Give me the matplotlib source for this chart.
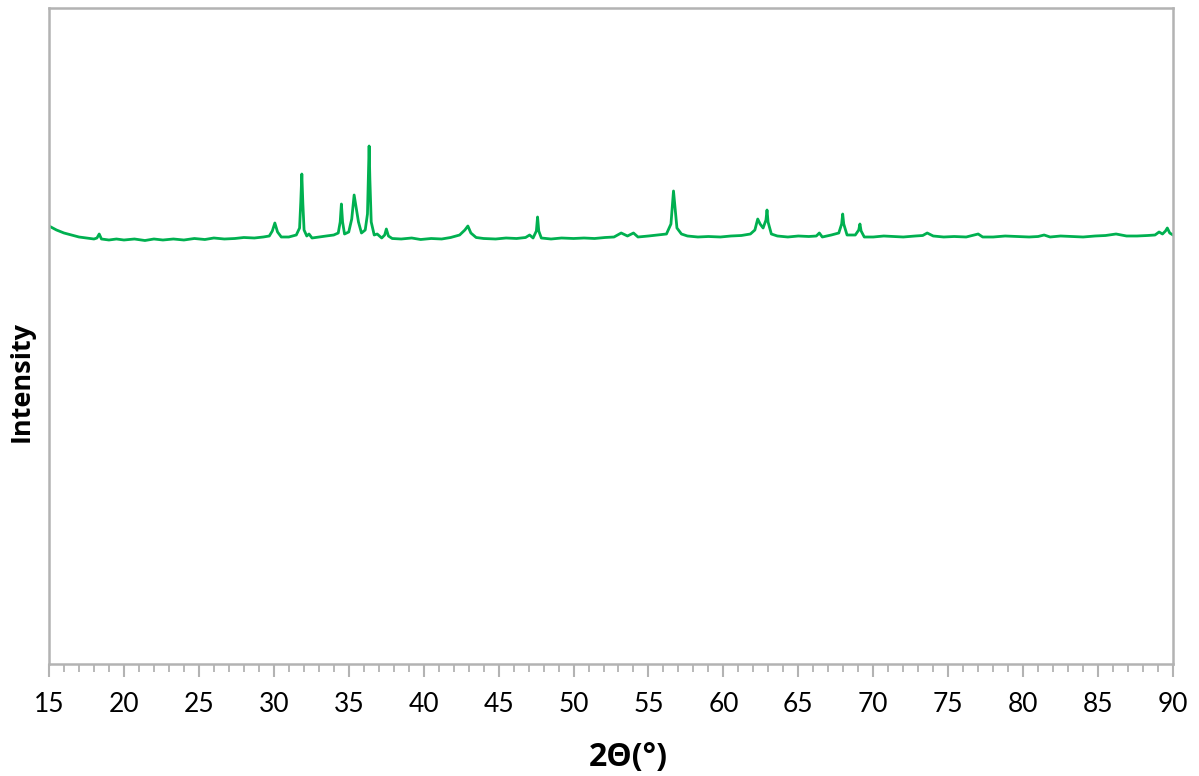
import numpy as np
import matplotlib.pyplot as plt
from matplotlib.ticker import MultipleLocator

# Patrón de difracción (2θ en grados, intensidad en u.a.)
two_theta = [
    15.0, 15.5, 16.0, 16.5, 17.0, 17.5, 18.0, 18.2, 18.35, 18.5,
    19.0, 19.5, 20.0, 20.7, 21.4, 22.0, 22.6, 23.3, 24.0, 24.7,
    25.4, 26.0, 26.7, 27.4, 28.0, 28.7, 29.3, 29.7, 29.9, 30.07,
    30.25, 30.5, 31.0, 31.5, 31.72, 31.8, 31.87, 31.94, 32.02, 32.2,
    32.35, 32.55, 33.0, 33.5, 34.0, 34.3, 34.43, 34.51, 34.59, 34.72,
    35.0, 35.2, 35.36, 35.5, 35.65, 35.85, 36.1, 36.25, 36.31, 36.36,
    36.41, 36.5, 36.7, 36.9, 37.2, 37.4, 37.51, 37.65, 37.9, 38.5,
    39.2, 39.8, 40.5, 41.2, 41.8, 42.4, 42.75, 42.95, 43.15, 43.5,
    44.0, 44.8, 45.5, 46.2, 46.8, 47.07, 47.3, 47.52, 47.6, 47.68,
    47.85, 48.5, 49.2, 50.0, 50.7, 51.4, 52.1, 52.7, 53.18, 53.6,
    54.0, 54.3, 55.0, 55.6, 56.2, 56.5, 56.6, 56.67, 56.75, 56.9,
    57.2, 57.6, 58.3, 59.0, 59.8, 60.5, 61.2, 61.8, 62.1, 62.29,
    62.45, 62.65, 62.84, 62.91, 62.98, 63.2, 63.6, 64.3, 65.0, 65.7,
    66.2, 66.4, 66.6, 67.2, 67.7, 67.89, 67.96, 68.03, 68.25, 68.8,
    69.03, 69.11, 69.19, 69.4, 70.0, 70.7, 71.4, 72.0, 72.8, 73.3,
    73.6, 74.0, 74.7, 75.4, 76.2, 77.0, 77.3, 78.0, 78.8, 79.6,
    80.4, 81.0, 81.4, 81.8, 82.5, 83.2, 84.0, 84.8, 85.5, 86.2,
    86.9, 87.6, 88.3, 88.8, 89.07, 89.3, 89.5, 89.62, 89.78, 90.0,
]
intensity = [
    4380, 4340, 4310, 4290, 4270, 4260, 4250, 4260, 4300, 4250,
    4240, 4250, 4240, 4250, 4235, 4250, 4240, 4250, 4240, 4255,
    4245, 4260, 4250, 4255, 4265, 4260, 4270, 4280, 4330, 4410,
    4320, 4270, 4270, 4290, 4360, 4620, 4900, 4600, 4340, 4280,
    4300, 4260, 4270, 4280, 4290, 4310, 4420, 4600, 4420, 4300,
    4320, 4450, 4690, 4560, 4420, 4310, 4340, 4500, 4850, 5180,
    4850, 4420, 4290, 4300, 4260, 4290, 4350, 4280, 4255, 4250,
    4260, 4245, 4255, 4250, 4265, 4290, 4340, 4380, 4310, 4265,
    4255, 4250, 4260, 4255, 4265, 4290, 4260, 4330, 4470, 4330,
    4260, 4250, 4260, 4255, 4260, 4255, 4265, 4270, 4310, 4280,
    4310, 4270, 4280, 4290, 4300, 4400, 4600, 4730, 4600, 4360,
    4300, 4280, 4270, 4275, 4270, 4280, 4285, 4300, 4340, 4450,
    4400, 4360, 4440, 4540, 4420, 4300, 4280, 4270, 4280, 4275,
    4280, 4310, 4270, 4290, 4310, 4400, 4500, 4400, 4290, 4290,
    4340, 4400, 4330, 4270, 4270, 4280, 4275, 4270, 4280, 4285,
    4310, 4280, 4270, 4275, 4270, 4300, 4270, 4270, 4280, 4275,
    4270, 4275, 4290, 4270, 4280, 4275, 4270, 4280, 4285, 4300,
    4280, 4280, 4285, 4290, 4320, 4300, 4330, 4360, 4310, 4290,
]

gris = '#b3b3b3'

fig = plt.figure(figsize=(11.99, 7.76), dpi=100)
ax = fig.add_axes([49 / 1199, 1 - 664 / 776, 1124 / 1199, 656 / 776])

ax.plot(two_theta, intensity, color='#00b050', linewidth=2.0)

ax.set_xlim(15, 90)
ax.set_ylim(0, 6560)
ax.xaxis.set_major_locator(MultipleLocator(5))
ax.xaxis.set_minor_locator(MultipleLocator(1))
ax.set_yticks([])

for s in ax.spines.values():
    s.set_color(gris)
    s.set_linewidth(1.8)

ax.tick_params(axis='x', which='major', length=9, width=1.5, color=gris,
               labelsize=19, pad=11)
ax.tick_params(axis='x', which='minor', length=6, width=1.3, color=gris)
for lbl in ax.get_xticklabels():
    lbl.set_fontfamily('Lato')

ax.set_xlabel('2Θ(°)', fontsize=23, fontweight='bold',
              fontfamily=['Open Sans', 'DejaVu Sans'], va='center')
ax.set_ylabel('Intensity', fontsize=19.5, fontweight='bold',
              fontfamily='Open Sans', va='center')
ax.xaxis.set_label_coords(0.515, -0.143)
ax.yaxis.set_label_coords(-0.024, 0.43)

fig.savefig('out.png', dpi=100)
